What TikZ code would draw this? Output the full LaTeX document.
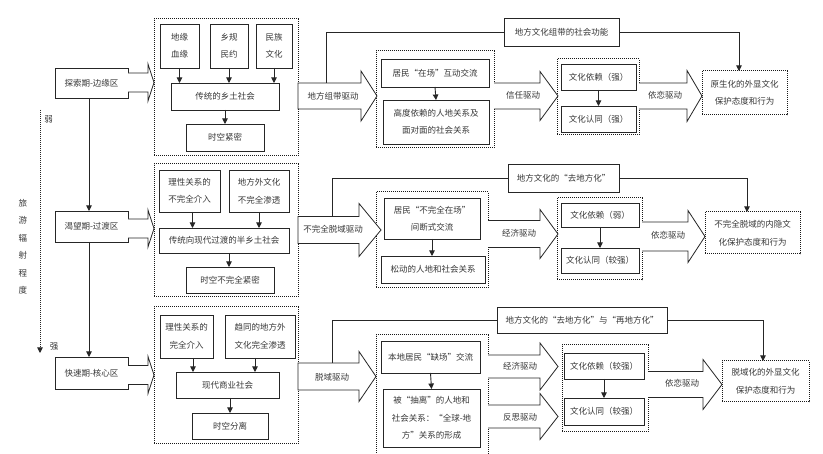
\documentclass[tikz,border=0pt]{standalone}
\usepackage{fontspec}
\setmainfont{Noto Sans CJK SC}
\usetikzlibrary{arrows.meta}
\tikzset{
  every node/.style={font=\fontsize{8.5pt}{17.5pt}\selectfont, text=black!78, inner sep=0pt, outer sep=0pt, align=center},
  sbox/.style={draw=black!85, line width=0.9pt, fill=white},
  dbox/.style={draw=black!90, line width=1pt, dash pattern=on 1pt off 1pt},
  arr/.style={draw=black!85, line width=0.9pt, -{Triangle[length=5.5pt,width=5.5pt]}},
  fline/.style={draw=black!85, line width=0.8pt},
  blk/.style={draw=black!85, line width=0.8pt, line join=miter},
}
\newcommand\mybox[7]{%
  \pgfmathsetmacro\bxw{#5-#3}\pgfmathsetmacro\bxh{#6-#4}%
  \pgfmathsetmacro\bxcx{(#3+#5)/2}\pgfmathsetmacro\bxcy{(#4+#6)/2}%
  \node[#1, minimum width=\bxw pt, minimum height=\bxh pt] (#2) at (\bxcx,\bxcy) {#7};}
% x0, head base x, tip x, centre y, shaft half height, head half height, closing
\newcommand\bkarrow[7]{%
  \pgfmathsetmacro\bya{#4-#5}\pgfmathsetmacro\byb{#4+#5}%
  \pgfmathsetmacro\byc{#4-#6}\pgfmathsetmacro\byd{#4+#6}%
  \fill[white] (#1,\bya) -- (#2,\bya) -- (#2,\byc) -- (#3,#4) -- (#2,\byd) -- (#2,\byb) -- (#1,\byb) -- cycle;
  \draw[blk] (#1,\bya) -- (#2,\bya) -- (#2,\byc) -- (#3,#4) -- (#2,\byd) -- (#2,\byb) -- (#1,\byb) #7;}
\begin{document}
\begin{tikzpicture}[x=1pt,y=-1pt]
\useasboundingbox[fill=white] (0,0) rectangle (823,454);

% ---------- left axis ----------
\node (axis) at (23,247) {旅\\游\\辐\\射\\程\\度};
\coordinate (wtop) at (40,110);
\coordinate (wbot) at (40,353);
\draw[arr, dash pattern=on 1pt off 1pt] (wtop) -- (wbot);
\node (weak) at (48.5,119) {弱};
\node (strong) at (54,347) {强};

% ---------- row 1 ----------
\mybox{sbox}{ts}{55}{68}{128}{98}{探索期-边缘区}
\mybox{dbox}{G1}{154}{19}{298}{156}{}
\mybox{sbox}{a1}{160}{24}{199}{68}{地缘\\血缘}
\mybox{sbox}{a2}{210}{24}{248}{68}{乡规\\民约}
\mybox{sbox}{a3}{256}{24}{292}{68}{民族\\文化}
\mybox{sbox}{a4}{171}{83}{279}{110}{传统的乡土社会}
\mybox{sbox}{a5}{186}{124}{264}{151}{时空紧密}
\draw[arr] (a1.south) -- (a1.south |- a4.north);
\draw[arr] (a2.south) -- (a2.south |- a4.north);
\draw[arr] (a3.south) -- (a3.south |- a4.north);
\draw[arr] (a5.north |- a4.south) -- (a5.north);

\mybox{sbox}{top1}{504}{18}{619}{46}{地方文化组带的社会功能}
\mybox{dbox}{G2}{376}{51}{494}{148}{}
\mybox{sbox}{b1}{381}{59}{489}{87}{居民“在场”互动交流}
\mybox{sbox}{b2}{383}{100}{489}{144}{高度依赖的人地关系及\\面对面的社会关系}
\draw[arr] (b1.south) -- (b2.north);
\mybox{dbox}{G3}{557}{59}{639}{135}{}
\mybox{sbox}{c1}{561}{64}{636}{90}{文化依赖（强）}
\mybox{sbox}{c2}{561}{106}{636}{132}{文化认同（强）}
\draw[arr] (c1.south) -- (c2.north);
\mybox{dbox}{R1}{702}{71}{787}{115}{原生化的外显文化\\保护态度和行为}

\bkarrow{128}{148}{154}{82.5}{9.5}{18.5}{}
\bkarrow{298}{361}{377}{96}{13}{25}{-- cycle}
\bkarrow{494}{540}{558}{96}{13}{24.5}{}
\bkarrow{639}{687}{702}{96}{13}{25.5}{}
\node (tB1) at (333,96) {地方组带驱动};
\node (tC1) at (523,95) {信任驱动};
\node (tD1) at (665,95) {依恋驱动};
\coordinate (fb1) at (326,83);
\coordinate (r1in) at (739,71);
\draw[fline] (fb1) |- (top1.west);
\draw[arr] (top1.east) -| (r1in);

% ---------- row 2 ----------
\mybox{sbox}{kw}{55}{211}{128}{242}{渴望期-过渡区}
\mybox{dbox}{G4}{154}{164}{298}{297}{}
\mybox{sbox}{d1}{159}{170}{220}{212}{理性关系的\\不完全介入}
\mybox{sbox}{d2}{229}{170}{289}{212}{地方外文化\\不完全渗透}
\mybox{sbox}{d3}{159}{228}{289}{253}{传统向现代过渡的半乡土社会}
\mybox{sbox}{d4}{186}{267}{274}{293}{时空不完全紧密}
\draw[arr] ([xshift=3pt]d1.south) -- ([xshift=3pt]d1.south |- d3.north);
\draw[arr] (d2.south) -- (d2.south |- d3.north);
\draw[arr] ([xshift=-1pt]d4.north |- d3.south) -- ([xshift=-1pt]d4.north);

\mybox{sbox}{top2}{508}{164}{619}{192}{地方文化的“去地方化”}
\mybox{dbox}{G5}{376}{192}{488}{288}{}
\mybox{sbox}{e1}{384}{198}{480}{239}{居民“不完全在场”\\间断式交流}
\mybox{sbox}{e2}{381}{256}{485}{283}{松动的人地和社会关系}
\draw[arr] (e1.south) -- (e2.north -| e1.south);
\mybox{dbox}{G6}{557}{198}{642}{280}{}
\mybox{sbox}{f1}{561}{203}{639}{227}{文化依赖（弱）}
\mybox{sbox}{f2}{561}{248}{639}{273}{文化认同（较强）}
\draw[arr] (f1.south) -- (f2.north);
\mybox{dbox}{R2}{705}{212}{800}{254}{不完全脱域的内隐文\\化保护态度和行为}

\bkarrow{128}{148}{154}{228.5}{9.5}{18.5}{}
\bkarrow{298}{359}{381}{230}{13.5}{26.5}{-- cycle}
\bkarrow{488}{540}{558}{234}{13.5}{24.5}{}
\bkarrow{642}{688}{705}{236.5}{14.5}{26}{}
\node (tB2) at (333,229) {不完全脱域驱动};
\node (tC2) at (519,233) {经济驱动};
\node (tD2) at (668,235) {依恋驱动};
\coordinate (fb2) at (332,216.5);
\coordinate (r2in) at (747,212);
\draw[fline] (fb2) |- (top2.west);
\draw[arr] (top2.east) -| (r2in);

% ---------- row 3 ----------
\mybox{sbox}{ks}{55}{357}{128}{389}{快速期-核心区}
\mybox{dbox}{G7}{154}{307}{298}{444}{}
\mybox{sbox}{g1}{160}{315}{213}{358}{理性关系的\\完全介入}
\mybox{sbox}{g2}{225}{315}{295}{358}{趋同的地方外\\文化完全渗透}
\mybox{sbox}{g3}{176}{372}{279}{398}{现代商业社会}
\mybox{sbox}{g4}{192}{413}{268}{439}{时空分离}
\draw[arr] ([xshift=6.5pt]g1.south) -- ([xshift=6.5pt]g1.south |- g3.north);
\draw[arr] ([xshift=-5pt]g2.south) -- ([xshift=-5pt]g2.south |- g3.north);
\draw[arr] (g4.north |- g3.south) -- (g4.north);

\mybox{sbox}{top3}{497}{307}{667}{333}{地方文化的“去地方化”与“再地方化”}
\mybox{dbox}{G8}{376}{335}{488}{470}{}
\mybox{sbox}{h1}{381}{341}{480}{373}{本地居民“缺场”交流}
\mybox{sbox}{h2}{383}{389}{480}{447}{被“抽离”的人地和\\社会关系：“全球-地\\方”关系的形成}
\draw[arr] (h1.south) -- (h2.north);
\mybox{dbox}{G9}{562}{345}{648}{432}{}
\mybox{sbox}{i1}{564}{353}{644}{379}{文化依赖（较强）}
\mybox{sbox}{i2}{564}{398}{644}{425}{文化认同（较强）}
\draw[arr] (i1.south) -- (i2.north);
\mybox{dbox}{R3}{722}{361}{809}{402}{脱域化的外显文化\\保护态度和行为}

\bkarrow{128}{148}{154}{375}{9.5}{18.5}{}
\bkarrow{298}{359}{376}{376.5}{13.5}{25}{-- cycle}
\bkarrow{488}{540}{558}{366.5}{11.5}{23.5}{}
\bkarrow{488}{540}{558}{416.5}{11.5}{23}{}
\bkarrow{648}{703}{722}{384.5}{13}{25}{}
\node (tB3) at (332,377) {脱域驱动};
\node (tC3) at (520,366) {经济驱动};
\node (tE3) at (520,417) {反思驱动};
\node (tD3) at (682,383) {依恋驱动};
\coordinate (fb3) at (332,363);
\coordinate (r3in) at (763,361);
\draw[fline] (fb3) |- (top3.west);
\draw[arr] (top3.east) -| (r3in);

% ---------- left column ----------
\draw[arr] ([xshift=-2.5pt]ts.south) -- ([xshift=-2.5pt]kw.north);
\draw[arr] ([xshift=-2.5pt]kw.south) -- ([xshift=-2.5pt]ks.north);
\end{tikzpicture}
\end{document}
